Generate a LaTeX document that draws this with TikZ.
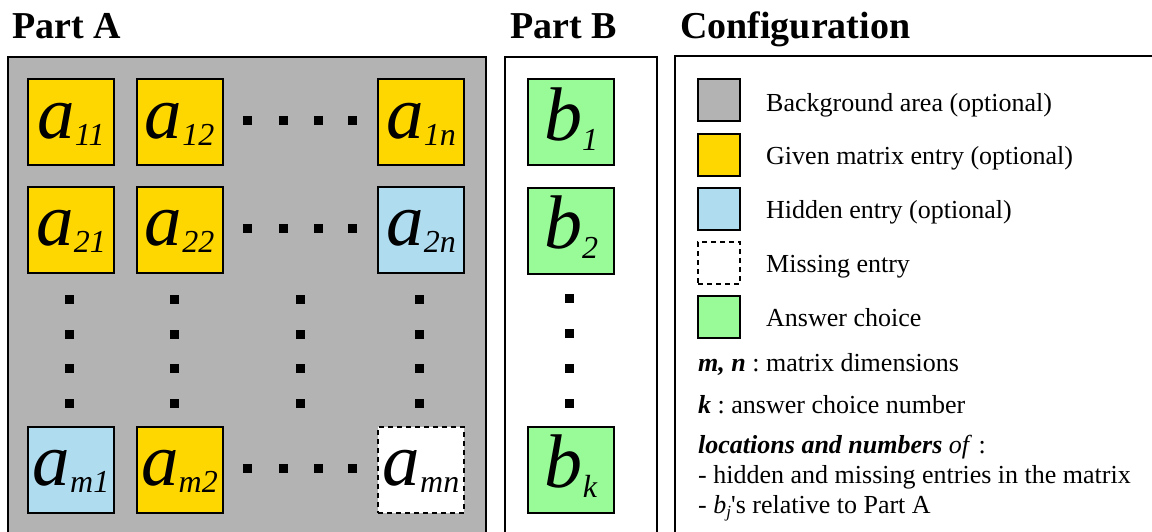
\documentclass[tikz,border=0pt]{standalone}
\usepackage{fontspec}
\setmainfont{Liberation Serif}
\frenchspacing
\definecolor{bggray}{RGB}{179,179,179}
\definecolor{givencol}{RGB}{255,215,0}
\definecolor{hiddencol}{RGB}{176,220,240}
\definecolor{answercol}{RGB}{152,251,152}
\newcommand{\aent}[1]{{\fontsize{75}{75}\selectfont\itshape a}\raisebox{-7pt}{\fontsize{32}{32}\selectfont\itshape #1}}
\newcommand{\bent}[1]{{\fontsize{76}{76}\selectfont\itshape b}\raisebox{-10pt}{\fontsize{32}{32}\selectfont\itshape #1}}
\tikzset{
  cellbox/.style={draw=black, line width=2pt, minimum size=86pt, inner sep=0pt, text height=32pt, text depth=0pt},
  given/.style={cellbox, fill=givencol},
  hid/.style={cellbox, fill=hiddencol},
  miss/.style={cellbox, fill=white, dash pattern=on 5pt off 4pt},
  ans/.style={cellbox, fill=answercol, text height=36pt},
  dotsq/.style={fill=black, inner sep=0pt, minimum size=9pt, rectangle},
  swatch/.style={draw=black, line width=2pt, minimum size=42pt, inner sep=0pt},
  title/.style={anchor=base west, inner sep=0pt, font=\fontsize{38}{40}\selectfont\bfseries},
  legtext/.style={anchor=base west, inner sep=0pt, font=\fontsize{26}{30}\selectfont},
  panel/.style={draw=black, line width=2pt}
}
\begin{document}
\begin{tikzpicture}[x=1pt,y=-1pt]
\useasboundingbox (0,0) rectangle (1152,531);
\fill[white] (0,0) rectangle (1152,531);
% titles
\node[title] (tA) at (12,38) {Part A};
\node[title] (tB) at (510,38) {Part B};
\node[title] (tC) at (680,38) {Configuration};
% panels
\draw[panel, fill=bggray] (8,57) rectangle (486,560);
\draw[panel, line width=1.5pt, fill=white] (505,57) rectangle (657,560);
\draw[panel, line width=1.5pt, fill=white] (675,56) rectangle (1170,560);
% Part A cells
\node[given] (a11) at (71,122) {\aent{11}};
\node[given] (a12) at (179.5,122) {\aent{12}};
\node[given] (a1n) at (421,122) {\aent{1n}};
\node[given] (a21) at (71,229.5) {\aent{21}};
\node[given] (a22) at (179.5,229.5) {\aent{22}};
\node[hid] (a2n) at (421,229.5) {\aent{2n}};
\node[hid] (am1) at (71,469.5) {\aent{m1}};
\node[given] (am2) at (179.5,469.5) {\aent{m2}};
\node[miss] (amn) at (421,469.5) {\aent{mn}};
% horizontal dots
\foreach \r/\y in {1/120, 2/228, m/468}{
  \foreach \i/\x in {1/247, 2/283, 3/318, 4/352}{
    \node[dotsq] (h\r\i) at (\x,\y) {};
  }
}
% vertical dots
\foreach \c/\x in {1/69, 2/174, 3/300, n/419}{
  \foreach \i/\y in {1/299, 2/334, 3/368, 4/403}{
    \node[dotsq] (v\c\i) at (\x,\y) {};
  }
}
% Part B
\node[ans] (b1) at (571,122) {\bent{1}};
\node[ans] (b2) at (571,230.5) {\bent{2}};
\node[ans] (bk) at (571,469.5) {\bent{k}};
\foreach \i/\y in {1/298, 2/333, 3/368, 4/403}{
  \node[dotsq] (bd\i) at (569,\y) {};
}
% legend
\node[swatch, fill=bggray] (s1) at (719,100) {};
\node[swatch, fill=givencol] (s2) at (719,154.5) {};
\node[swatch, fill=hiddencol] (s3) at (719,209) {};
\node[swatch, fill=white, dash pattern=on 5pt off 4pt] (s4) at (719,263) {};
\node[swatch, fill=answercol] (s5) at (719,317) {};
\node[legtext] (l1) at (766,111) {Background area (optional)};
\node[legtext] (l2) at (766,164) {Given matrix entry (optional)};
\node[legtext] (l3) at (766,218) {Hidden entry (optional)};
\node[legtext] (l4) at (766,272) {Missing entry};
\node[legtext] (l5) at (766,326) {Answer choice};
\node[legtext] (l6) at (698,371) {\textbf{\textit{m, n}} : matrix dimensions};
\node[legtext] (l7) at (698,413) {\textbf{\textit{k}} : answer choice number};
\node[legtext] (l8) at (698,453) {\textbf{\textit{locations and numbers}} \textit{of} :};
\node[legtext] (l9) at (698,483) {- hidden and missing entries in the matrix};
\node[legtext] (l10) at (698,513) {- \textit{b}\raisebox{-4pt}{\fontsize{17}{17}\selectfont\itshape j}\textquotesingle s relative to Part A};
\end{tikzpicture}
\end{document}
